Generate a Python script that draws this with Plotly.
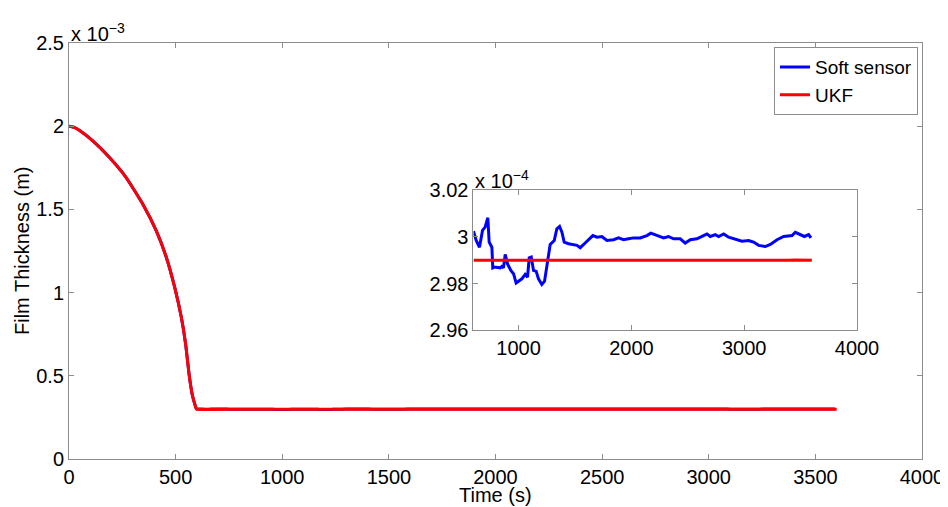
import plotly.graph_objects as go

# ---- data (time in s, thickness in m) ----
t_drop = [0, 25, 50, 113, 191, 269, 347, 410, 457, 496, 527, 547, 563, 579, 597]
h_drop_e3 = [2.000, 1.993, 1.974, 1.910, 1.810, 1.690, 1.530, 1.370, 1.210, 1.030, 0.850,
             0.690, 0.510, 0.380, 0.302]

t_soft = [600, 624, 653, 680, 703, 727, 739, 763, 771, 783, 837, 851, 866, 881, 902, 931, 955,
          978, 1008, 1029, 1058, 1079, 1094, 1112, 1132, 1156, 1176, 1206, 1230, 1250, 1280,
          1316, 1339, 1363, 1384, 1404, 1443, 1517, 1546, 1590, 1620, 1658, 1694, 1738, 1783,
          1842, 1886, 1930, 1974, 2019, 2078, 2137, 2172, 2226, 2285, 2329, 2373, 2433, 2477,
          2522, 2581, 2640, 2670, 2699, 2744, 2773, 2818, 2862, 2921, 2980, 3039, 3083, 3128,
          3187, 3232, 3291, 3350, 3394, 3424, 3453, 3497, 3533, 3571, 3592]
h_soft_e4 = [3.0024, 2.9984, 2.9955, 3.0027, 3.0041, 3.0081, 2.9977, 2.9955, 2.9867, 2.9870,
             2.9867, 2.9873, 2.9867, 2.9924, 2.9884, 2.9856, 2.9842, 2.9802, 2.9813, 2.9820,
             2.9839, 2.9827, 2.9910, 2.9913, 2.9856, 2.9852, 2.9820, 2.9796, 2.9810, 2.9870,
             2.9967, 2.9984, 3.0034, 3.0044, 3.0019, 2.9977, 2.9970, 2.9963, 2.9953, 2.9973,
             2.9987, 3.0005, 2.9998, 3.0001, 2.9984, 2.9987, 2.9995, 2.9987, 2.9991, 2.9995,
             2.9995, 3.0005, 3.0015, 3.0005, 2.9995, 3.0001, 2.9991, 2.9991, 2.9973, 2.9987,
             2.9991, 3.0005, 3.0012, 3.0001, 3.0009, 3.0001, 3.0012, 2.9998, 2.9991, 2.9981,
             2.9984, 2.9977, 2.9963, 2.9958, 2.9967, 2.9987, 3.0001, 3.0005, 3.0005, 3.0019,
             3.0009, 3.0001, 3.0009, 2.9995]

t_ukf = [600, 800, 1000, 1200, 1400, 1600, 1800, 1960, 2000, 2200, 2400, 2600, 2800, 3000,
         3200, 3400, 3450, 3600]
h_ukf_e4 = [2.9899, 2.9899, 2.9898, 2.9899, 2.9899, 2.9899, 2.9899, 2.9896, 2.9899, 2.9899,
            2.9898, 2.9899, 2.9899, 2.9898, 2.9899, 2.9899, 2.9901, 2.9899]

main_xticks = [0, 500, 1000, 1500, 2000, 2500, 3000, 3500, 4000]
main_yticks = [0, 0.5e-3, 1.0e-3, 1.5e-3, 2.0e-3, 2.5e-3]
main_yticklabels = ["0", "0.5", "1", "1.5", "2", "2.5"]
inset_xticks = [1000, 2000, 3000, 4000]
inset_yticks = [2.96e-4, 2.98e-4, 3.00e-4, 3.02e-4]
inset_yticklabels = ["2.96", "2.98", "3", "3.02"]

h_drop = [v * 1e-3 for v in h_drop_e3]
h_soft = [v * 1e-4 for v in h_soft_e4]
h_ukf = [v * 1e-4 for v in h_ukf_e4]

BLUE = "#0000ff"
RED = "#ff0000"
FONT = "Liberation Sans, Arial, sans-serif"
AX = "#8c8c8c"
FS = 20

fig = go.Figure()
fig.add_trace(go.Scatter(x=t_drop + t_soft, y=h_drop + h_soft, mode="lines",
                         line=dict(color=BLUE, width=3, shape="spline", smoothing=0.4),
                         name="Soft sensor"))
fig.add_trace(go.Scatter(x=t_drop + t_ukf, y=h_drop + h_ukf, mode="lines",
                         line=dict(color=RED, width=3, shape="spline", smoothing=0.4),
                         name="UKF"))
fig.add_trace(go.Scatter(x=t_soft, y=h_soft, mode="lines", xaxis="x2", yaxis="y2",
                         line=dict(color=BLUE, width=3), showlegend=False))
fig.add_trace(go.Scatter(x=t_ukf, y=h_ukf, mode="lines", xaxis="x2", yaxis="y2",
                         line=dict(color=RED, width=3), showlegend=False))

axcommon = dict(showgrid=False, zeroline=False, showline=True, linecolor=AX, linewidth=1,
                mirror="ticks", ticks="inside", ticklen=5, tickcolor=AX, automargin=False,
                tickfont=dict(family=FONT, size=FS, color="black"))

# the page body adds an 8px offset; margins compensate so the plot sits where the reference has it
fig.update_layout(
    width=948, height=507,
    margin=dict(l=61, r=34, t=35, b=56),
    paper_bgcolor="white", plot_bgcolor="white",
    font=dict(family=FONT, size=FS, color="black"),
    xaxis=dict(range=[0, 4000], tickvals=main_xticks, **axcommon),
    yaxis=dict(range=[0, 2.5e-3], tickvals=main_yticks, ticktext=main_yticklabels, **axcommon),
    xaxis2=dict(domain=[0.4742, 0.9238], anchor="y2", range=[600, 4000],
                tickvals=inset_xticks, **axcommon),
    yaxis2=dict(domain=[0.3094, 0.6468], anchor="x2", range=[2.96e-4, 3.02e-4],
                tickvals=inset_yticks, ticktext=inset_yticklabels, **axcommon),
    legend=dict(x=0.9953, y=0.99, xanchor="right", yanchor="top",
                bgcolor="white", bordercolor=AX, borderwidth=1,
                font=dict(family=FONT, size=19), itemwidth=30, tracegroupgap=0),
    showlegend=True,
)

fig.add_annotation(text="Time (s)", xref="paper", yref="paper", x=0.5, y=0,
                   xanchor="center", yanchor="middle", yshift=-36, showarrow=False,
                   font=dict(family=FONT, size=FS))
fig.add_annotation(text="Film Thickness (m)", xref="paper", yref="paper", x=0, y=0.5,
                   xanchor="center", yanchor="middle", xshift=-47, textangle=-90,
                   showarrow=False, font=dict(family=FONT, size=FS))
fig.add_annotation(text="x 10<sup>\u22123</sup>", xref="paper", yref="paper", x=0.0, y=1.0,
                   xanchor="left", yanchor="bottom", showarrow=False, yshift=-4,
                   font=dict(family=FONT, size=FS))
fig.add_annotation(text="x 10<sup>\u22124</sup>", xref="x2 domain", yref="y2 domain", x=0.0, y=1.0,
                   xanchor="left", yanchor="bottom", showarrow=False, yshift=-4,
                   font=dict(family=FONT, size=FS))

fig.write_html("out.html")
